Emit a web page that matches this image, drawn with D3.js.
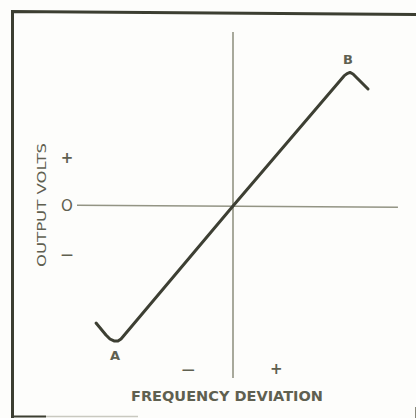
<!DOCTYPE html>
<html>
<head>
<meta charset="utf-8">
<script src="https://cdn.jsdelivr.net/npm/d3@7"></script>
<style>
  html, body { margin: 0; padding: 0; background: #fdfdfb; }
  svg { display: block; }
  text { font-family: "DejaVu Sans", sans-serif; fill: #5f6050; }
</style>
</head>
<body>
<script>
// Discriminator response: output volts versus frequency deviation (normalised units)
const curveX = [-0.856, -0.794, -0.769, -0.744, -0.719, -0.700, 0, 0.694, 0.713, 0.731, 0.750, 0.775, 0.844];
const curveY = [-0.836, -0.921, -0.950, -0.964, -0.964, -0.950, 0, 0.929, 0.946, 0.954, 0.943, 0.914, 0.836];

const xAxisExtent = [-0.975, 1.031];
const yAxisExtent = [-1.229, 1.243];

const yTickValues = [0.34, 0, -0.35];
const yTickLabels = ["+", "O", "\u2014"];
const xTickValues = [-0.28, 0.27];
const xTickLabels = ["\u2014", "+"];

const pointLabels = [
  { name: "A", x: -0.737, y: -1.065 },
  { name: "B", x: 0.719, y: 1.045 }
];

const xTitle = "FREQUENCY DEVIATION";
const yTitle = "OUTPUT VOLTS";

const W = 416, H = 418;
const svg = d3.select("body").append("svg").attr("width", W).attr("height", H);

const x = d3.scaleLinear().domain([-1, 1]).range([73, 393]);
const y = d3.scaleLinear().domain([-1, 1]).range([346, 66]);

// outer frame
const frame = svg.append("g").attr("fill", "none").attr("stroke", "#3c3e31");
frame.append("path").attr("d", "M12.5,420 L12.5,11.5 L416,14.5").attr("stroke-width", 3);
frame.append("line").attr("x1", 12).attr("x2", 46).attr("y1", 416.5).attr("y2", 416.5).attr("stroke-width", 2);
frame.append("line").attr("x1", 46).attr("x2", 138).attr("y1", 416.5).attr("y2", 416.5)
  .attr("stroke", "#c9c9c0").attr("stroke-width", 1.5);
frame.append("line").attr("x1", 415.5).attr("x2", 415.5).attr("y1", 407).attr("y2", 418)
  .attr("stroke", "#8a8a7c").attr("stroke-width", 1);

// axes through the origin
svg.append("line")
  .attr("x1", x(0)).attr("x2", x(0))
  .attr("y1", y(yAxisExtent[1])).attr("y2", y(yAxisExtent[0]))
  .attr("stroke", "#8b8c7b").attr("stroke-width", 1.5);
svg.append("line")
  .attr("x1", x(xAxisExtent[0])).attr("x2", x(xAxisExtent[1]))
  .attr("y1", y(0) - 0.8).attr("y2", y(0) + 1.2)
  .attr("stroke", "#939484").attr("stroke-width", 1.5);

// y tick marks (+ / O / —)
svg.append("g").selectAll("text").data(yTickValues).join("text")
  .attr("x", 67).attr("y", d => y(d))
  .attr("text-anchor", "middle").attr("dominant-baseline", "central")
  .style("font-size", (d, i) => i === 2 ? "12px" : "15px")
  .style("font-weight", (d, i) => i === 1 ? "normal" : "bold")
  .text((d, i) => yTickLabels[i]);

// x tick marks (— / +)
svg.append("g").selectAll("text").data(xTickValues).join("text")
  .attr("x", d => x(d)).attr("y", 369)
  .attr("text-anchor", "middle").attr("dominant-baseline", "central")
  .style("font-size", (d, i) => i === 0 ? "13px" : "15px").style("font-weight", "bold")
  .text((d, i) => xTickLabels[i]);

// axis titles
svg.append("text")
  .attr("x", 227).attr("y", 401)
  .attr("text-anchor", "middle")
  .attr("textLength", 192).attr("lengthAdjust", "spacingAndGlyphs")
  .style("font-size", "13.5px").style("font-weight", "bold")
  .text(xTitle);

svg.append("text")
  .attr("transform", "translate(45.5,205) rotate(-90)")
  .attr("text-anchor", "middle")
  .attr("textLength", 124).attr("lengthAdjust", "spacingAndGlyphs")
  .style("font-size", "13px")
  .text(yTitle);

// response curve
const pts = curveX.map((d, i) => [d, curveY[i]]);
svg.append("path")
  .datum(pts)
  .attr("fill", "none")
  .attr("stroke", "#3d3f33")
  .attr("stroke-width", 3)
  .attr("stroke-linejoin", "round")
  .attr("stroke-linecap", "round")
  .attr("d", d3.line().x(d => x(d[0])).y(d => y(d[1])));

// point labels
svg.append("g").selectAll("text").data(pointLabels).join("text")
  .attr("x", d => x(d.x)).attr("y", d => y(d.y))
  .attr("text-anchor", "middle").attr("dominant-baseline", "central")
  .style("font-size", "13px").style("font-weight", "bold")
  .text(d => d.name);
</script>
</body>
</html>
